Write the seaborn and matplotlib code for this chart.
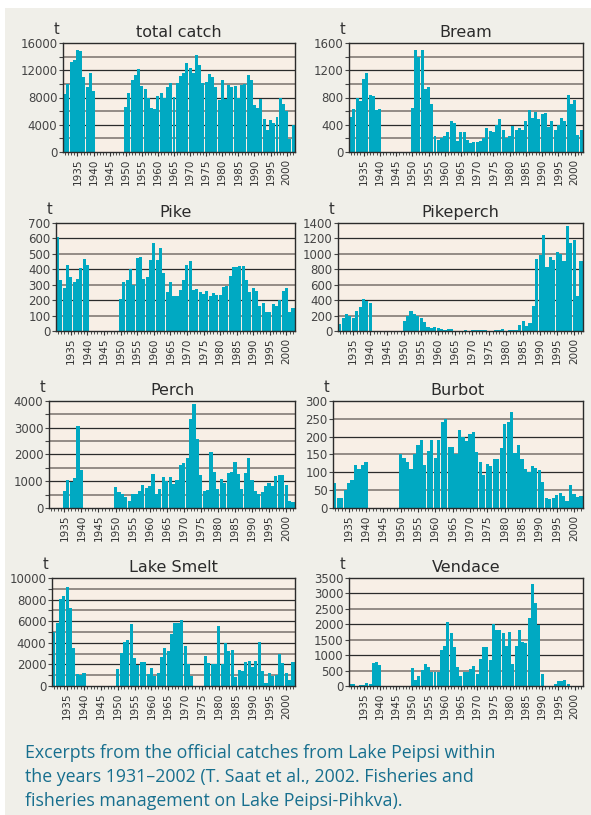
import numpy as np
import pandas as pd
import matplotlib.pyplot as plt
import seaborn as sns
from matplotlib.ticker import MultipleLocator
from matplotlib.patches import Rectangle

# Dados (t), 1931-2002; 1941-1949 sem dados (0)
years = list(range(1931, 2003))
gap = [0] * 9

total_catch = [8500, 10000, 13200, 13500, 15000, 14800, 11000, 9500, 11600, 8900] + gap + [
    6600, 8700, 10600, 11300, 12200, 9700, 9200, 8000, 6500, 6300,
    8200, 8600, 8000, 9500, 10200, 8100, 10200, 11100, 11600, 13100,
    12400, 11600, 14300, 12700, 10100, 10300, 11500, 11000, 9500, 7600,
    10600, 7800, 9900, 9500, 9700, 7900, 9900, 10000, 11300, 10600,
    6900, 6400, 7800, 4800, 3300, 4700, 4300, 5200, 8000, 7000,
    6000, 1900, 4000]
bream = [520, 630, 800, 750, 1070, 1160, 830, 820, 610, 630] + gap + [
    640, 1490, 1390, 1490, 920, 950, 700, 240, 170, 200,
    240, 290, 450, 420, 160, 290, 290, 170, 130, 150,
    140, 160, 210, 350, 310, 300, 400, 480, 330, 210,
    240, 380, 330, 350, 320, 450, 610, 500, 590, 490,
    560, 570, 370, 450, 320, 400, 500, 460, 840, 700,
    760, 250, 330]
pike = [610, 330, 280, 430, 350, 320, 340, 410, 465, 430] + gap + [
    210, 320, 330, 400, 300, 470, 480, 340, 350, 460,
    570, 460, 540, 375, 250, 315, 225, 230, 265, 330,
    430, 455, 265, 275, 255, 240, 260, 230, 245, 235,
    235, 285, 290, 355, 415, 415, 420, 420, 330, 255,
    280, 260, 165, 180, 125, 120, 175, 165, 200, 260,
    280, 125, 150]
pikeperch = [90, 170, 220, 190, 175, 260, 310, 420, 390, 360] + gap + [
    130, 200, 260, 220, 190, 170, 120, 50, 40, 50,
    40, 20, 15, 30, 30, 5, 5, 5, 15, 5,
    15, 10, 15, 15, 15, 5, 5, 15, 15, 30,
    5, 10, 15, 15, 80, 130, 70, 110, 330, 930,
    990, 1240, 830, 960, 920, 1020, 1000, 910, 1360, 1140,
    1180, 460, 910]
perch = [0, 0, 0, 0, 640, 1050, 980, 1120, 3050, 1420] + gap + [
    790, 600, 520, 400, 270, 530, 520, 640, 860, 750,
    820, 1270, 530, 720, 1150, 1000, 1150, 900, 1050, 1600,
    1680, 1870, 3320, 3900, 2570, 1230, 640, 680, 2080, 1350,
    720, 1080, 950, 1300, 1340, 1720, 1270, 720, 1300, 1870,
    1050, 640, 530, 600, 830, 930, 830, 1200, 1230, 1230,
    860, 270, 240]
burbot = [70, 28, 28, 50, 70, 78, 120, 110, 120, 128] + gap + [
    150, 140, 128, 110, 150, 178, 190, 120, 160, 190,
    140, 190, 240, 250, 170, 170, 150, 220, 200, 188,
    208, 212, 156, 128, 92, 123, 118, 136, 136, 167,
    235, 242, 270, 153, 178, 136, 109, 100, 118, 112,
    106, 73, 28, 25, 28, 37, 42, 33, 20, 64,
    40, 31, 33]
lake_smelt = [5000, 5800, 8100, 8300, 9200, 7200, 3500, 1150, 1000, 1250] + gap + [
    1600, 3100, 4100, 4300, 5700, 2600, 1900, 2200, 2200, 1150,
    1700, 950, 1250, 2700, 3500, 3200, 4800, 5800, 5800, 6100,
    3700, 2000, 950, 0, 0, 0, 2800, 2100, 2000, 2000,
    5600, 2000, 4000, 3200, 3300, 800, 1500, 1400, 2200, 2300,
    1800, 2300, 4100, 1400, 300, 1200, 900, 1000, 3000, 2100,
    1200, 600, 2200]
vendace = [80, 50, 10, 40, 40, 100, 70, 730, 790, 670] + gap + [
    570, 210, 340, 510, 720, 600, 440, 440, 440, 1180,
    1300, 2060, 1730, 1270, 600, 340, 440, 440, 560, 660,
    400, 890, 1270, 1250, 850, 2000, 1800, 1820, 1730, 1310,
    1760, 700, 1310, 1830, 1440, 1400, 2190, 3290, 2700, 1970,
    380, 0, 0, 0, 50, 150, 150, 180, 50, 0,
    0, 0, 0]

# titulo, serie, passo da grade, passo dos rótulos, topo, caixa (px: esq, dir, topo, base)
paineis = [
    ('total catch', total_catch, 2000, 4000, 16000, (63, 295, 43, 152)),
    ('Bream', bream, 200, 400, 1600, (349, 583, 43, 152)),
    ('Pike', pike, 100, 100, 700, (56, 295, 223, 331)),
    ('Pikeperch', pikeperch, 200, 200, 1400, (338, 583, 223, 331)),
    ('Perch', perch, 500, 1000, 4000, (49, 295, 401, 508)),
    ('Burbot', burbot, 50, 50, 300, (333, 583, 401, 508)),
    ('Lake Smelt', lake_smelt, 1000, 2000, 10000, (52, 295, 578, 686)),
    ('Vendace', vendace, 500, 500, 3500, (349, 583, 578, 686)),
]

W, H = 591, 815
sns.set_theme(style="white")
plt.rcParams['font.family'] = ['DejaVu Sans']

fig = plt.figure(figsize=(W / 100, H / 100), dpi=100, facecolor='#F0EFE9')
# margem branca no topo e à esquerda, como no original
fig.patches.append(Rectangle((0, 1 - 8 / H), 1, 8 / H, transform=fig.transFigure,
                             facecolor='white', edgecolor='none'))
fig.patches.append(Rectangle((0, 0), 5 / W, 1, transform=fig.transFigure,
                             facecolor='white', edgecolor='none'))

cor_barra = '#00A9C2'
for titulo, serie, passo, rot, topo, (x0, x1, y0, y1) in paineis:
    ax = fig.add_axes([x0 / W, 1 - y1 / H, (x1 - x0) / W, (y1 - y0) / H])
    ax.set_facecolor('#F8EFE6')
    df = pd.DataFrame({'ano': years, 't': serie})
    sns.barplot(data=df, x='ano', y='t', native_scale=True, color=cor_barra,
                saturation=1, width=0.92, linewidth=0, errorbar=None, ax=ax)

    # grade alternada: escura nos rótulos pares, cinza nos intermediários
    for k, yv in enumerate(np.arange(passo, topo, passo), start=1):
        if k % 2 == 0:
            ax.axhline(yv, color='#2b2b2b', lw=0.9, zorder=0.5)
        else:
            ax.axhline(yv, color='#8c847e', lw=1.3, zorder=0.5)

    ax.set_xlim(1930.5, 2002.6)
    ax.set_ylim(0, topo)
    ax.xaxis.set_minor_locator(MultipleLocator(1))
    ax.yaxis.set_major_locator(MultipleLocator(rot))
    ax.yaxis.set_minor_locator(MultipleLocator(passo))
    ax.set_xticks(range(1935, 2001, 5))
    ax.set_xticklabels([str(a) for a in range(1935, 2001, 5)], rotation=90)
    ax.tick_params(axis='x', which='major', length=3, width=0.8, labelsize=7.5,
                   colors='#333333', pad=2, bottom=True)
    ax.tick_params(axis='x', which='minor', length=2, width=0.6, bottom=True, color='#333333')
    ax.tick_params(axis='y', which='both', length=3, width=0.8, labelsize=8.5,
                   colors='#444444', pad=1, left=True)
    ax.set_xlabel('')
    ax.set_ylabel('')
    for s in ax.spines.values():
        s.set_color('#2b2b2b')
        s.set_linewidth(1.0)

    ax.set_title(titulo, fontsize=11.5, color='#2b2b2b', pad=4)
    ax.annotate('t', xy=(0, 1), xycoords='axes fraction', xytext=(-5, 4),
                textcoords='offset points', ha='center', va='bottom',
                fontsize=10.5, color='#333333')

legenda = ("Excerpts from the official catches from Lake Peipsi within\n"
           "the years 1931\u20132002 (T. Saat et al., 2002. Fisheries and\n"
           "fisheries management on Lake Peipsi-Pihkva).")
fig.text(25 / W, 1 - 744 / H, legenda, ha='left', va='top', fontsize=12.8,
         color='#176F8E', family=['Open Sans', 'DejaVu Sans'], linespacing=1.42)

plt.savefig('out.png', dpi=100, facecolor=fig.get_facecolor())
